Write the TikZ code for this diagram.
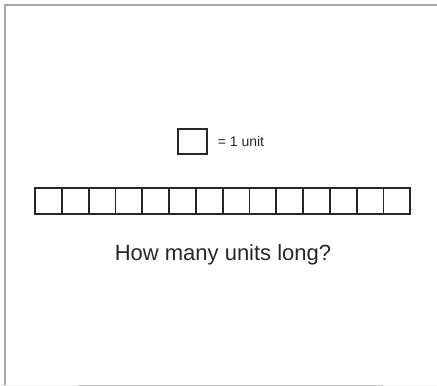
\documentclass[tikz,border=0pt]{standalone}
\usepackage{fontspec}
\setmainfont{Liberation Sans}
\usetikzlibrary{positioning}

\begin{document}
\begin{tikzpicture}[x=1pt, y=-1pt]
    \tikzset{
        every node/.style={font=\fontsize{14}{16}\selectfont, text=black!85},
        cellbox/.style={draw=black!85, line width=1.8pt, minimum width=26.8pt, minimum height=26pt, inner sep=0pt},
        unitbox/.style={draw=black!85, line width=1.8pt, minimum width=29pt, minimum height=25pt, inner sep=0pt}
    }
    \useasboundingbox (0,0) rectangle (437,386);

    % frame
    \draw [gray!70, line width=2pt] (5,386) -- (5,5) -- (437,5);
    \draw [gray!12, line width=1.5pt] (0,385.5) -- (437,385.5);
    \draw [gray!45, line width=1.5pt] (78,385.5) -- (383,385.5);

    % legend
    \node [unitbox] (unit) at (192.2,141.8) {};
    \node [right=10pt of unit, inner sep=0pt] (unittext) {= 1 unit};

    % strip of 14 cells
    \foreach \i in {0,...,13} {
        \node [cellbox] (c\i) at ({35+13.4+26.8*\i},201) {};
    }

    \node [anchor=base, font=\fontsize{22}{26}\selectfont] (question) at (223,260.5) {How many units long?};

\end{tikzpicture}
\end{document}
